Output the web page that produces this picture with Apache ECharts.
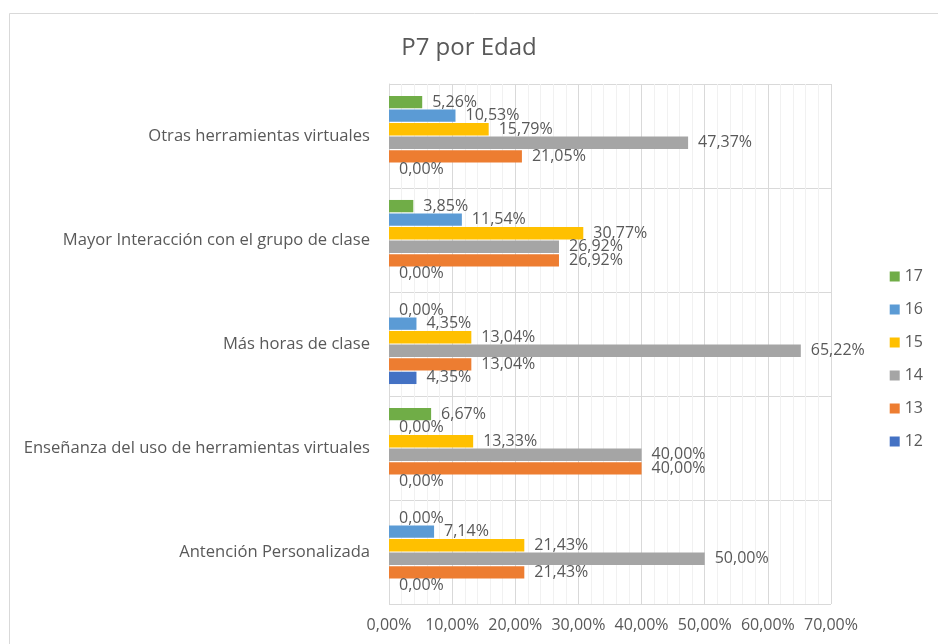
<!DOCTYPE html>
<html>
<head>
<meta charset="utf-8">
<script src="https://cdn.jsdelivr.net/npm/echarts@6/dist/echarts.min.js"></script>
<style>
  html, body { margin: 0; padding: 0; background: #fff; }
  #main { width: 938px; height: 644px; }
</style>
</head>
<body>
<div id="main"></div>
<script>
// categories, bottom to top as they appear on the axis
var categorias = ['Antención Personalizada', 'Enseñanza del uso de herramientas virtuales', 'Más horas de clase', 'Mayor Interacción con el grupo de clase', 'Otras herramientas virtuales'];
// ages, top bar of each group first
var edades = ['17', '16', '15', '14', '13', '12'];
var colores = ['#70AD47', '#5B9BD5', '#FFC000', '#A5A5A5', '#ED7D31', '#4472C4'];
// percentages per age, same order as categorias
var edad17 = [0.00, 6.67, 0.00, 3.85, 5.26];
var edad16 = [7.14, 0.00, 4.35, 11.54, 10.53];
var edad15 = [21.43, 13.33, 13.04, 30.77, 15.79];
var edad14 = [50.00, 40.00, 65.22, 26.92, 47.37];
var edad13 = [21.43, 40.00, 13.04, 26.92, 21.05];
var edad12 = [0.00, 0.00, 4.35, 0.00, 0.00];
var valores = [edad17, edad16, edad15, edad14, edad13, edad12];
var ticksX = [0, 10, 20, 30, 40, 50, 60, 70];

var fuente = 'Open Sans';
var gris = '#595959';

function pct(v){
    return Number(v).toFixed(2).replace('.', ',') + '%';
}

var series = [];
for (var i = 0; i < edades.length; i++) {
    series.push({
        name: edades[i],
        type: 'bar',
        data: valores[i],
        barGap: '10%',
        barCategoryGap: '23%',
        itemStyle: { color: colores[i] },
        label: {
            show: true,
            position: 'right',
            distance: 10,
            color: gris,
            fontFamily: fuente,
            fontSize: 16,
            formatter: function(p){ return pct(p.value); }
        }
    });
}

var myChart = echarts.init(document.getElementById('main'));
var option = {
    backgroundColor: '#fff',
    animation: false,
    title: {
        text: 'P7 por Edad',
        left: 'center',
        top: 31,
        textStyle: { color: gris, fontFamily: fuente, fontSize: 24, fontWeight: 'normal' }
    },
    legend: {
        orient: 'vertical',
        right: 10,
        top: 262,
        itemWidth: 10,
        itemHeight: 10,
        itemGap: 14,
        icon: 'rect',
        data: edades,
        textStyle: { color: gris, fontFamily: fuente, fontSize: 16, lineHeight: 19 }
    },
    grid: { left: 389, right: 107, top: 84, bottom: 40 },
    xAxis: {
        type: 'value',
        min: 0,
        max: 70,
        interval: 10,
        axisLine: { show: false },
        axisTick: { show: false },
        axisLabel: {
            color: gris, fontFamily: fuente, fontSize: 16, margin: 13,
            formatter: function(v){ return ticksX.indexOf(v) >= 0 ? pct(v) : ''; }
        },
        splitLine: { show: true, lineStyle: { color: '#d9d9d9', width: 1 } },
        minorTick: { show: false, splitNumber: 5 },
        minorSplitLine: { show: true, lineStyle: { color: '#f1f1f1', width: 1 } }
    },
    yAxis: {
        type: 'category',
        data: categorias,
        axisLine: { show: true, lineStyle: { color: '#d9d9d9' } },
        axisTick: { show: false },
        axisLabel: { color: gris, fontFamily: fuente, fontSize: 16.6, margin: 19 },
        splitLine: { show: true, lineStyle: { color: '#d9d9d9' } }
    },
    graphic: [{
        type: 'rect',
        shape: { x: 9.5, y: 13.5, width: 1000, height: 1000 },
        style: { fill: 'none', stroke: '#d9d9d9', lineWidth: 1 },
        silent: true,
        z: -1
    }],
    series: series
};
myChart.setOption(option);
</script>
</body>
</html>
